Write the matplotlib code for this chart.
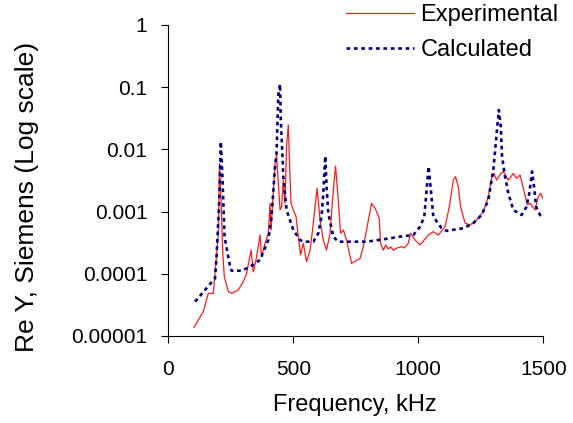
import matplotlib
matplotlib.use("Agg")
import matplotlib.pyplot as plt

# --- Data (frequency in kHz, Re Y in Siemens) ---
exp_freq = [103, 140, 160, 180, 193, 200, 205, 211, 218, 224, 240, 253, 280, 300,
            313, 331, 340, 351, 367, 373, 387, 400, 407, 411, 418, 427, 433, 440,
            447, 453, 460, 467, 473, 480, 484, 491, 500, 511, 520, 529, 540, 553,
            567, 577, 587, 595, 607, 620, 633, 647, 658, 669, 680, 689, 700, 713,
            733, 767, 780, 793, 813, 827, 844, 849, 860, 870, 880, 890, 900, 915,
            933, 945, 960, 969, 987, 1007, 1040, 1060, 1080, 1107, 1124, 1140, 1149,
            1160, 1169, 1187, 1207, 1233, 1260, 1280, 1293, 1303, 1313, 1330, 1340,
            1360, 1380, 1393, 1407, 1420, 1436, 1447, 1467, 1480, 1489, 1500]
exp_y = [1.38e-5, 2.46e-5, 4.85e-5, 4.85e-5, 2.0e-4, 4.48e-4, 5.97e-3, 1.53e-3,
         2.13e-4, 9.0e-5, 5.2e-5, 4.85e-5, 5.5e-5, 7.5e-5, 1.0e-4, 2.4e-4, 1.08e-4,
         1.67e-4, 4.2e-4, 1.88e-4, 3.09e-4, 4.48e-4, 1.36e-3, 5.06e-4, 1.53e-3,
         5.97e-3, 8.1e-3, 2.85e-3, 1.06e-3, 1.2e-3, 3.2e-3, 1.36e-3, 0.0111, 0.0247,
         7.6e-3, 1.36e-3, 1.06e-3, 8.3e-4, 3.95e-4, 2.0e-4, 3.09e-4, 1.57e-4, 2.4e-4,
         5.06e-4, 1.2e-3, 2.37e-3, 7.3e-4, 3.49e-4, 2.4e-4, 4.48e-4, 1.74e-3, 5.4e-3,
         1.53e-3, 4.48e-4, 5.06e-4, 3.49e-4, 1.47e-4, 1.77e-4, 2.73e-4, 5.06e-4,
         1.36e-3, 1.13e-3, 7.8e-4, 3.09e-4, 2.4e-4, 2.9e-4, 2.5e-4, 2.7e-4, 2.4e-4,
         2.6e-4, 2.73e-4, 2.6e-4, 3.09e-4, 4.48e-4, 3.49e-4, 2.9e-4, 4.2e-4, 4.75e-4,
         4.2e-4, 5.7e-4, 1.2e-3, 3.2e-3, 3.64e-3, 2.5e-3, 1.2e-3, 6.5e-4, 6.1e-4,
         7.3e-4, 9.96e-4, 1.74e-3, 3.43e-3, 4.1e-3, 3.2e-3, 4.1e-3, 4.4e-3, 3.2e-3,
         4.1e-3, 3.43e-3, 3.87e-3, 2.37e-3, 1.28e-3, 1.36e-3, 1.06e-3, 1.74e-3,
         1.97e-3, 1.58e-3]

calc_freq = [107, 187, 193, 204, 210, 216, 225, 247, 253, 293, 327, 367, 400, 413,
             427, 433, 440, 447, 450, 455, 460, 473, 500, 527, 540, 580, 600, 613,
             620, 628, 633, 640, 660, 680, 793, 860, 927, 980, 1007, 1024, 1033, 1041,
             1049, 1060, 1093, 1113, 1180, 1220, 1253, 1280, 1291, 1300, 1311, 1322,
             1330, 1335, 1347, 1360, 1380, 1413, 1433, 1444, 1455, 1463, 1471, 1487,
             1500]
calc_y = [3.56e-5, 8.5e-5, 1.88e-4, 1.53e-3, 0.0133, 4.1e-3, 3.95e-4, 1.3e-4, 1.12e-4,
          1.12e-4, 1.3e-4, 1.67e-4, 3.49e-4, 8.3e-4, 5.3e-3, 8.6e-3, 0.075, 0.112,
          0.0297, 0.0111, 3.64e-3, 1.06e-3, 5.06e-4, 3.49e-4, 3.28e-4, 3.28e-4,
          4.48e-4, 8.3e-4, 1.97e-3, 7.8e-3, 2.5e-3, 9.4e-4, 3.95e-4, 3.28e-4, 3.28e-4,
          3.58e-4, 3.95e-4, 4.2e-4, 5.7e-4, 8.3e-4, 2.2e-3, 5.3e-3, 2.5e-3, 8.3e-4,
          5.4e-4, 4.9e-4, 5.4e-4, 6.5e-4, 8.8e-4, 1.53e-3, 2.85e-3, 4.67e-3, 0.0142,
          0.043, 0.0232, 7.6e-3, 3.64e-3, 1.97e-3, 1.06e-3, 8.8e-4, 1.2e-3, 1.97e-3,
          4.4e-3, 2.5e-3, 1.2e-3, 8.8e-4, 7.8e-4]

y_ticks = [1e-5, 1e-4, 1e-3, 1e-2, 1e-1, 1]
y_tick_labels = ["0.00001", "0.0001", "0.001", "0.01", "0.1", "1"]
x_ticks = [0, 500, 1000, 1500]

plt.rcParams["font.family"] = ["Liberation Sans", "DejaVu Sans"]

fig = plt.figure(figsize=(5.73, 4.23), dpi=100)
ax = fig.add_axes([0.2937, 0.2057, 0.9482 - 0.2937, 0.941 - 0.2057])

ax.plot(exp_freq, exp_y, color="#ff1a1a", lw=0.9, label="Experimental")
ax.plot(calc_freq, calc_y, color="#000080", lw=1.9, linestyle=(0, (1.4, 1.4)),
        label="Calculated")

ax.set_yscale("log")
ax.set_xlim(0, 1500)
ax.set_ylim(1e-5, 1)
ax.set_yticks(y_ticks)
ax.set_yticklabels(y_tick_labels)
ax.minorticks_off()
ax.set_xticks(x_ticks)

for side in ["top", "right"]:
    ax.spines[side].set_visible(False)
for side in ["left", "bottom"]:
    ax.spines[side].set_linewidth(0.8)

ax.tick_params(axis="y", direction="out", length=5, width=0.8, pad=10, labelsize=15)
ax.tick_params(axis="x", direction="out", length=5, width=0.8, pad=12, labelsize=15)

fig.text(355 / 573, 1 - 405 / 423, "Frequency, kHz", fontsize=17,
         ha="center", va="center")
fig.text(27 / 573, 1 - 197 / 423, "Re Y, Siemens (Log scale)", fontsize=19,
         rotation=90, ha="center", va="center")

fig.legend(loc="upper left", bbox_to_anchor=(346 / 573, 0.99), frameon=False,
           fontsize=17, handlelength=2.9, handletextpad=0.25, labelspacing=0.55,
           borderpad=0, borderaxespad=0)

fig.savefig("out.png", dpi=100)
